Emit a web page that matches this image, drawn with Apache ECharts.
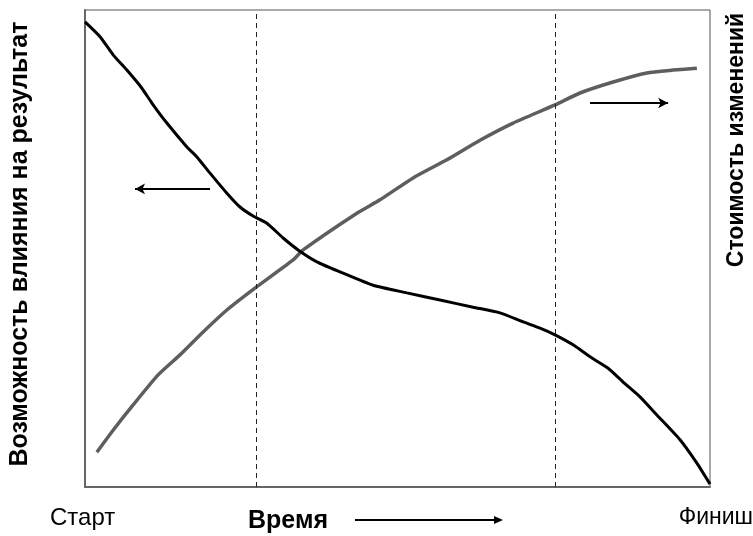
<!DOCTYPE html>
<html>
<head>
<meta charset="utf-8">
<script src="https://cdn.jsdelivr.net/npm/echarts@6/dist/echarts.min.js"></script>
<style>
html,body{margin:0;padding:0;background:#fff;}
#chart{width:753px;height:536px;}
</style>
</head>
<body>
<div id="chart"></div>
<script>
// Time axis: 0 = Старт, 100 = Финиш
var timeLabels = ['Старт', 'Финиш'];
var xAxisTitle = 'Время';
var leftAxisTitle = 'Возможность влияния на результат';
var rightAxisTitle = 'Стоимость изменений';

// Possibility to influence result (black curve) [time, value]
var influenceCurve = [
  [0, 97.5], [2.4, 94.4], [4.5, 90.6], [6.7, 87.4], [9.1, 83.6], [10.7, 80.5],
  [13.1, 76.3], [16.3, 71.3], [17.9, 69.2], [20, 65.8], [22.7, 61.6], [24.8, 58.7],
  [26.9, 56.8], [29.1, 55.3], [31.7, 52.2], [34.1, 49.7], [37.1, 47.2], [40.8, 45.1],
  [46.1, 42.3], [51.5, 40.7], [56.8, 39.2], [62.1, 37.7], [66.4, 36.5], [70.1, 34.6],
  [72.8, 33.3], [75.2, 31.9], [78.1, 29.8], [80.8, 27.3], [83.7, 24.9], [86.1, 22.0],
  [88.8, 18.9], [91.5, 15.1], [95.2, 9.9], [97.9, 5.0], [100, 0.6]
];

// Cost of changes (gray curve) [time, value]
var costCurve = [
  [1.9, 7.3], [4.5, 11.9], [7.7, 17.2], [11.7, 23.5], [15.2, 27.7], [18.9, 32.5],
  [22.7, 37.1], [27.4, 41.9], [33.3, 47.6], [34.9, 49.7], [43.5, 57.4], [47.2, 60.2],
  [52.5, 64.8], [57.9, 68.6], [63.2, 72.7], [68.5, 76.3], [75.2, 80.1], [79.2, 82.6],
  [84.5, 84.9], [89.9, 86.8], [94.1, 87.4], [97.9, 87.8]
];

// Phase boundaries (dashed verticals)
var phaseBoundaries = [27.4, 75.2];

// Direction arrows inside plot: [[x1,y1],[x2,y2]]
var leftArrow = [[20, 62.5], [8, 62.5]];
var rightArrow = [[80.8, 80.5], [93.3, 80.5]];

var chart = echarts.init(document.getElementById('chart'), null, {renderer: 'canvas'});
var FONT = '"Liberation Sans", Arial, sans-serif';

var option = {
  backgroundColor: '#ffffff',
  animation: false,
  grid: {left: 85, right: 43, top: 10, bottom: 49, show: true, borderColor: '#555', borderWidth: 1, backgroundColor: 'transparent'},
  xAxis: {
    type: 'value', min: 0, max: 100,
    axisLine: {show: true, lineStyle: {color: '#666', width: 2}},
    axisTick: {show: false}, axisLabel: {show: false}, splitLine: {show: false}
  },
  yAxis: [{
    type: 'value', min: 0, max: 100, position: 'left',
    axisLine: {show: true, lineStyle: {color: '#666', width: 2}},
    axisTick: {show: false}, axisLabel: {show: false}, splitLine: {show: false}
  }],
  series: [
    {
      name: 'influence', type: 'line', data: influenceCurve, smooth: 0.2,
      symbol: 'none', lineStyle: {color: '#000', width: 3},
      markLine: {
        silent: true, symbol: ['none', 'none'], label: {show: false},
        lineStyle: {color: '#222', type: [5, 4], width: 1},
        data: phaseBoundaries.map(function (v) { return {xAxis: v}; })
      },
      z: 3
    },
    {
      name: 'cost', type: 'line', data: costCurve, smooth: 0.2,
      symbol: 'none', lineStyle: {color: '#5e5e5e', width: 3.5},
      markLine: {
        silent: true, symbol: ['none', 'arrow'], symbolSize: [8, 10], label: {show: false},
        lineStyle: {color: '#000', type: 'solid', width: 2},
        data: [
          [{coord: leftArrow[0]}, {coord: leftArrow[1]}],
          [{coord: rightArrow[0]}, {coord: rightArrow[1]}]
        ]
      },
      z: 2
    }
  ],
  graphic: [
    {type: 'text', x: 50, y: 518, style: {text: timeLabels[0], font: '24px ' + FONT, fill: '#000', align: 'left', verticalAlign: 'middle'}},
    {type: 'text', x: 753, y: 518, style: {text: timeLabels[1], font: '23px ' + FONT, fill: '#000', align: 'right', verticalAlign: 'middle'}},
    {type: 'text', x: 248, y: 521, style: {text: xAxisTitle, font: 'bold 25px ' + FONT, fill: '#000', align: 'left', verticalAlign: 'middle'}},
    {type: 'line', shape: {x1: 355, y1: 520, x2: 496, y2: 520}, style: {stroke: '#000', lineWidth: 2}},
    {type: 'polygon', shape: {points: [[503, 520], [494, 516], [494, 524]]}, style: {fill: '#000'}},
    {type: 'text', x: 20, y: 244, rotation: Math.PI / 2,
      style: {text: leftAxisTitle, font: 'bold 25px ' + FONT, fill: '#000', align: 'center', verticalAlign: 'middle'}},
    {type: 'text', x: 737, y: 140, rotation: Math.PI / 2,
      style: {text: rightAxisTitle, font: 'bold 23px ' + FONT, fill: '#000', align: 'center', verticalAlign: 'middle'}}
  ]
};
chart.setOption(option);
</script>
</body>
</html>
